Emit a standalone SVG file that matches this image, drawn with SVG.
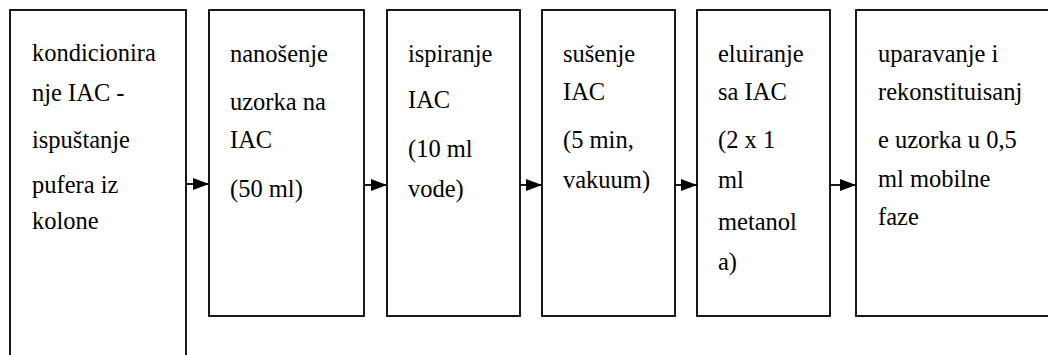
<svg xmlns="http://www.w3.org/2000/svg" width="1048" height="355" viewBox="0 0 1048 355">
<defs>
<marker id="ah" markerWidth="16" markerHeight="12" refX="16" refY="6" orient="auto" markerUnits="userSpaceOnUse">
<path d="M0,0 L16,6 L0,12 Z" fill="#000"/>
</marker>
<style>
.box{fill:#fff;stroke:#000;stroke-width:1.8}
.c{stroke:#000;stroke-width:1.8;fill:none}
.t{font-family:'Liberation Serif','Times New Roman',serif;font-size:24.5px;fill:#000}
</style>
</defs>
<rect width="1048" height="355" fill="#fff"/>
<g id="n1">
<rect class="box" x="10" y="10" width="176" height="360"/>
<text class="t" x="32" y="61">kondicionira</text>
<text class="t" x="32" y="101">nje IAC -</text>
<text class="t" x="32" y="148">ispuštanje</text>
<text class="t" x="32" y="193">pufera iz</text>
<text class="t" x="32" y="229">kolone</text>
</g>
<g id="n2">
<rect class="box" x="209" y="10" width="155" height="306"/>
<text class="t" x="230" y="62">nanošenje</text>
<text class="t" x="230" y="110">uzorka na</text>
<text class="t" x="230" y="148">IAC</text>
<text class="t" x="230" y="197">(50 ml)</text>
</g>
<g id="n3">
<rect class="box" x="387" y="10" width="133" height="306"/>
<text class="t" x="408" y="62">ispiranje</text>
<text class="t" x="408" y="108">IAC</text>
<text class="t" x="408" y="157">(10 ml</text>
<text class="t" x="408" y="197">vode)</text>
</g>
<g id="n4">
<rect class="box" x="542" y="10" width="133" height="306"/>
<text class="t" x="563" y="62">sušenje</text>
<text class="t" x="563" y="100">IAC</text>
<text class="t" x="563" y="148">(5 min,</text>
<text class="t" x="563" y="188">vakuum)</text>
</g>
<g id="n5">
<rect class="box" x="697" y="10" width="133" height="306"/>
<text class="t" x="718" y="62">eluiranje</text>
<text class="t" x="718" y="100">sa IAC</text>
<text class="t" x="718" y="148">(2 x 1</text>
<text class="t" x="718" y="188">ml</text>
<text class="t" x="718" y="230">metanol</text>
<text class="t" x="718" y="270">a)</text>
</g>
<g id="n6">
<rect class="box" x="856" y="10" width="200" height="306"/>
<text class="t" x="878" y="62">uparavanje i</text>
<text class="t" x="878" y="100">rekonstituisanj</text>
<text class="t" x="878" y="148">e uzorka u 0,5</text>
<text class="t" x="878" y="187">ml mobilne</text>
<text class="t" x="878" y="225">faze</text>
</g>
<g id="connectors">
<line class="c" x1="186" y1="184" x2="209" y2="184" marker-end="url(#ah)"/>
<line class="c" x1="364" y1="185" x2="387" y2="185" marker-end="url(#ah)"/>
<line class="c" x1="520" y1="185" x2="542" y2="185" marker-end="url(#ah)"/>
<line class="c" x1="675" y1="185" x2="697" y2="185" marker-end="url(#ah)"/>
<line class="c" x1="830" y1="185" x2="856" y2="185" marker-end="url(#ah)"/>
</g>
</svg>
